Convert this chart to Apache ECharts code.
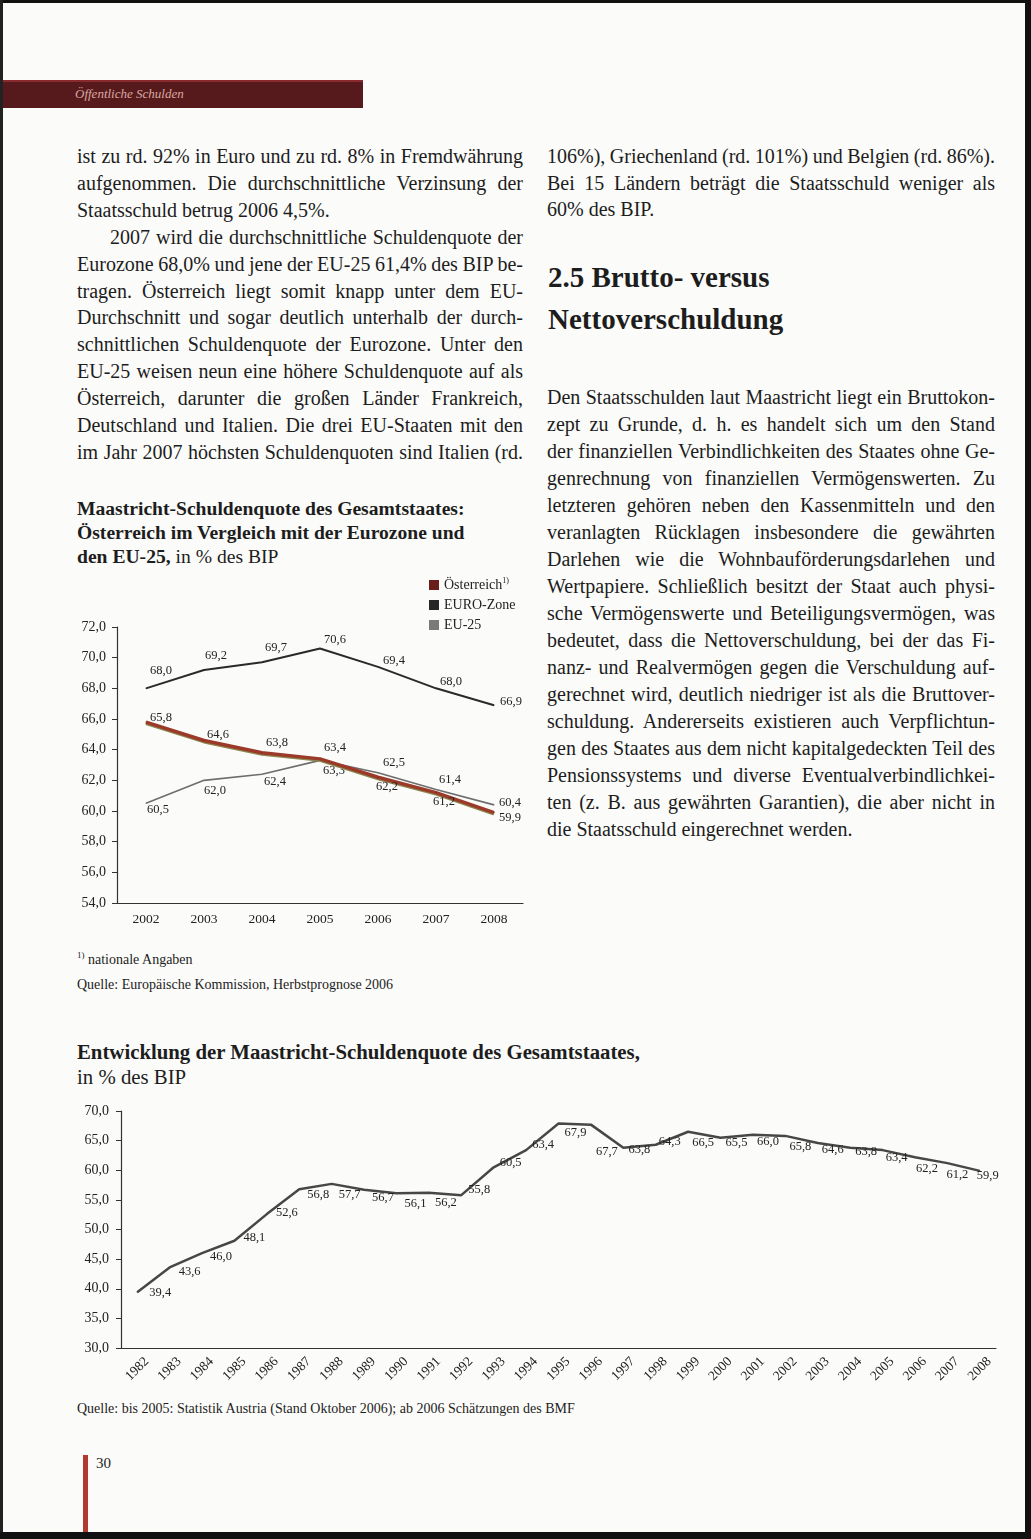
<!DOCTYPE html>
<html><head><meta charset="utf-8">
<script src="https://cdn.jsdelivr.net/npm/echarts@6/dist/echarts.min.js"></script>
<style>
html,body{margin:0;padding:0;}
body{width:1031px;height:1539px;position:relative;overflow:hidden;background:#fbfbf9;font-family:"Liberation Serif","Times New Roman",serif;color:#1d1d1d;}
.abs{position:absolute;}
.line{position:absolute;white-space:nowrap;font-size:20px;line-height:20px;}
</style></head>
<body>
<!-- scan frame -->
<div class="abs" style="left:0;top:0;width:1031px;height:3px;background:#111"></div>
<div class="abs" style="left:0;top:0;width:3px;height:1539px;background:#222"></div>
<div class="abs" style="left:1025px;top:0;width:6px;height:1539px;background:#111"></div>
<div class="abs" style="left:0;top:1532px;width:1031px;height:7px;background:#111"></div>
<!-- header bar -->
<div class="abs" style="left:3px;top:80px;width:360px;height:28px;background:#571a1c;border-top:2px solid #8a2a2e;box-sizing:border-box"></div>
<div class="abs" style="left:75px;top:86px;font-style:italic;font-size:13px;color:#d9a8a2;">Öffentliche Schulden</div>

<div id="text"></div>

<div id="c1" class="abs" style="left:0;top:560px;width:560px;height:380px"></div>
<div id="c2" class="abs" style="left:0;top:1090px;width:1031px;height:330px"></div>

<!-- page number -->
<div class="abs" style="left:83px;top:1455px;width:5px;height:77px;background:#b23a2c"></div>
<div class="abs" style="left:96px;top:1455px;font-size:15px;">30</div>

<script>
// ---------- DATA ----------
const years1 = ['2002','2003','2004','2005','2006','2007','2008'];
const austria = [65.8, 64.6, 63.8, 63.4, 62.2, 61.2, 59.9];
const euroZone = [68.0, 69.2, 69.7, 70.6, 69.4, 68.0, 66.9];
const eu25 = [60.5, 62.0, 62.4, 63.3, 62.5, 61.4, 60.4];
const seriesNames1 = ['Österreich', 'EURO-Zone', 'EU-25'];
const yMin1 = 54, yMax1 = 72, yStep1 = 2;

const years2 = ['1982','1983','1984','1985','1986','1987','1988','1989','1990','1991','1992','1993','1994','1995','1996','1997','1998','1999','2000','2001','2002','2003','2004','2005','2006','2007','2008'];
const debtRatio = [39.4, 43.6, 46.0, 48.1, 52.6, 56.8, 57.7, 56.7, 56.1, 56.2, 55.8, 60.5, 63.4, 67.9, 67.7, 63.8, 64.3, 66.5, 65.5, 66.0, 65.8, 64.6, 63.8, 63.4, 62.2, 61.2, 59.9];
const yMin2 = 30, yMax2 = 70, yStep2 = 5;

// ---------- TEXT ----------
const leftLines = [
 ['ist zu rd. 92% in Euro und zu rd. 8% in Fremdwährung',1,0],
 ['aufgenommen. Die durchschnittliche Verzinsung der',1,0],
 ['Staatsschuld betrug 2006 4,5%.',0,0],
 ['2007 wird die durchschnittliche Schuldenquote der',1,33],
 ['Eurozone 68,0% und jene der EU-25 61,4% des BIP be-',1,0],
 ['tragen. Österreich liegt somit knapp unter dem EU-',1,0],
 ['Durchschnitt und sogar deutlich unterhalb der durch-',1,0],
 ['schnittlichen Schuldenquote der Eurozone. Unter den',1,0],
 ['EU-25 weisen neun eine höhere Schuldenquote auf als',1,0],
 ['Österreich, darunter die großen Länder Frankreich,',1,0],
 ['Deutschland und Italien. Die drei EU-Staaten mit den',1,0],
 ['im Jahr 2007 höchsten Schuldenquoten sind Italien (rd.',1,0]
];
const rightTop = [
 ['106%), Griechenland (rd. 101%) und Belgien (rd. 86%).',1,0],
 ['Bei 15 Ländern beträgt die Staatsschuld weniger als',1,0],
 ['60% des BIP.',0,0]
];
const rightBody = [
 ['Den Staatsschulden laut Maastricht liegt ein Bruttokon-',1],
 ['zept zu Grunde, d. h. es handelt sich um den Stand',1],
 ['der finanziellen Verbindlichkeiten des Staates ohne Ge-',1],
 ['genrechnung von finanziellen Vermögenswerten. Zu',1],
 ['letzteren gehören neben den Kassenmitteln und den',1],
 ['veranlagten Rücklagen insbesondere die gewährten',1],
 ['Darlehen wie die Wohnbauförderungsdarlehen und',1],
 ['Wertpapiere. Schließlich besitzt der Staat auch physi-',1],
 ['sche Vermögenswerte und Beteiligungsvermögen, was',1],
 ['bedeutet, dass die Nettoverschuldung, bei der das Fi-',1],
 ['nanz- und Realvermögen gegen die Verschuldung auf-',1],
 ['gerechnet wird, deutlich niedriger ist als die Bruttover-',1],
 ['schuldung. Andererseits existieren auch Verpflichtun-',1],
 ['gen des Staates aus dem nicht kapitalgedeckten Teil des',1],
 ['Pensionssystems und diverse Eventualverbindlichkei-',1],
 ['ten (z. B. aus gewährten Garantien), die aber nicht in',1],
 ['die Staatsschuld eingerechnet werden.',0]
];

const host = document.getElementById('text');
function addLine(txt, x, yc, w, just, opts){
  opts = opts || {};
  const d = document.createElement('div');
  d.className = 'line';
  const fs = opts.fs || 20;
  d.style.fontSize = fs+'px'; d.style.lineHeight = fs+'px';
  d.style.left = x+'px'; d.style.top = (yc - fs*0.55)+'px';
  if (opts.bold) d.style.fontWeight = 'bold';
  if (opts.html) d.innerHTML = txt; else d.textContent = txt;
  host.appendChild(d);
  if (just){
    const nat = d.getBoundingClientRect().width;
    const spaces = (txt.match(/ /g)||[]).length;
    if (spaces>0) d.style.wordSpacing = ((w - nat)/spaces)+'px';
  }
}
leftLines.forEach((l,i)=>addLine(l[0], 77+l[2], 157+i*26.9, 446-l[2], l[1]));
rightTop.forEach((l,i)=>addLine(l[0], 547, 157+i*26.6, 448, l[1]));
addLine('2.5 Brutto- versus', 548, 279, 0, 0, {fs:29, bold:true});
addLine('Nettoverschuldung', 548, 321, 0, 0, {fs:29, bold:true});
rightBody.forEach((l,i)=>addLine(l[0], 547, 398+i*27.0, 448, l[1]));

addLine('Maastricht-Schuldenquote des Gesamtstaates:', 77, 510, 0, 0, {fs:19.6, bold:true});
addLine('Österreich im Vergleich mit der Eurozone und', 77, 534, 0, 0, {fs:19.6, bold:true});
addLine('<b>den EU-25,</b> in % des BIP', 77, 558, 0, 0, {fs:19.6, html:true});
addLine('<sup style="font-size:9px">1)</sup> nationale Angaben', 77, 956, 0, 0, {fs:14, html:true});
addLine('Quelle: Europäische Kommission, Herbstprognose 2006', 77, 986, 0, 0, {fs:14});

addLine('Entwicklung der Maastricht-Schuldenquote des Gesamtstaates,', 77, 1053, 0, 0, {fs:20.8, bold:true});
addLine('in % des BIP', 77, 1078, 0, 0, {fs:20.8});
addLine('Quelle: bis 2005: Statistik Austria (Stand Oktober 2006); ab 2006 Schätzungen des BMF', 77, 1410, 0, 0, {fs:14});

// ---------- CHART 1 ----------
const fmt = v => Number(v).toFixed(1).replace('.', ',');
const serif = '"Liberation Serif","Times New Roman",serif';
const off1 = {
  euro: [[15,-18],[12,-14],[14,-15],[15,-9],[16,-6],[15,-7],[17,-3]],
  aut:  [[15,-4],[14,-6],[15,-10],[15,-11],[9,9],[8,9],[16,5]],
  eu:   [[12,6],[11,10],[13,8],[14,10],[16,-10],[14,-10],[16,-2]]
};
function items(vals, offs){
  return vals.map((v,i)=>({value:v, label:{show:true, position:'inside', offset:offs[i], formatter: p=>fmt(p.value), fontFamily:serif, fontSize:12.5, color:'#222'}}));
}
const c1 = echarts.init(document.getElementById('c1'), null, {renderer:'canvas'});
c1.setOption({
  animation:false,
  textStyle:{fontFamily:serif},
  legend:{
    data: seriesNames1, orient:'vertical', left:424, top:12, icon:'rect',
    itemWidth:10, itemHeight:10, itemGap:6, textStyle:{fontFamily:serif, fontSize:14, color:'#222', rich:{s:{fontSize:8, verticalAlign:'top', padding:[0,0,8,0], fontFamily:serif}}},
    formatter: n => n==='Österreich' ? n+'{s|1)}' : n
  },
  grid:{left:117, right:37, top:67, bottom:37},
  xAxis:{type:'category', data:years1, boundaryGap:true,
    axisLine:{lineStyle:{color:'#333', width:1.2}},
    axisTick:{inside:true, length:6, lineStyle:{color:'#333'}},
    axisLabel:{fontFamily:serif, fontSize:13.5, color:'#222', margin:9}},
  yAxis:{type:'value', min:yMin1, max:yMax1, interval:yStep1,
    splitLine:{show:false},
    axisLine:{show:true, lineStyle:{color:'#333', width:1.2}},
    axisTick:{show:true, length:5, lineStyle:{color:'#333'}},
    axisLabel:{fontFamily:serif, fontSize:14, color:'#222', margin:11, formatter:fmt}},
  series:[
    {name:'EURO-Zone', type:'line', data:items(euroZone, off1.euro), symbol:'circle', symbolSize:1,
     color:'#262626', lineStyle:{color:'#2a2a2a', width:2}, z:2},
    {name:'EU-25', type:'line', data:items(eu25, off1.eu), symbol:'circle', symbolSize:1,
     color:'#7a7a7a', lineStyle:{color:'#6e6e6e', width:1.6}, z:2},
    {name:'Österreich', type:'line', data:items(austria, off1.aut), symbol:'circle', symbolSize:1,
     color:'#6a1e1c', lineStyle:{color:'#9c3a2a', width:3.5, shadowColor:'#8a8a50', shadowBlur:0, shadowOffsetY:1.2}, z:3}
  ]
});

// ---------- CHART 2 ----------
const dx2 = [23,20,19,20,20,19,18,19,19,17,18,17,17,17,16,16,14,15,16,15,15,15,16,14,12,10,8];
const dy2 = [0,4,4,-3,-1,6,11,8,10,10,-5,-5,-5,9,27,2,-3,11,5,7,11,7,4,8,12,12,5];
const c2 = echarts.init(document.getElementById('c2'), null, {renderer:'canvas'});
c2.setOption({
  animation:false,
  grid:{left:121, right:35, top:21, bottom:72},
  xAxis:{type:'category', data:years2, boundaryGap:true,
    axisLine:{lineStyle:{color:'#333', width:1.2}},
    axisTick:{length:5, lineStyle:{color:'#333'}},
    axisLabel:{interval:0, rotate:45, align:'center', verticalAlign:'middle', fontFamily:serif, fontSize:13.5, color:'#222', margin:21}},
  yAxis:{type:'value', min:yMin2, max:yMax2, interval:yStep2,
    splitLine:{show:false},
    axisLine:{show:true, lineStyle:{color:'#333', width:1.2}},
    axisTick:{show:true, length:5, lineStyle:{color:'#333'}},
    axisLabel:{fontFamily:serif, fontSize:14, color:'#222', margin:12, formatter:fmt}},
  series:[{type:'line', symbol:'circle', symbolSize:1, color:'#444',
    lineStyle:{color:'#474747', width:2.5},
    data: debtRatio.map((v,i)=>({value:v, label:{show:true, position:'inside', offset:[dx2[i],dy2[i]], formatter:p=>fmt(p.value), fontFamily:serif, fontSize:12.5, color:'#222'}}))
  }]
});
</script>
</body></html>
